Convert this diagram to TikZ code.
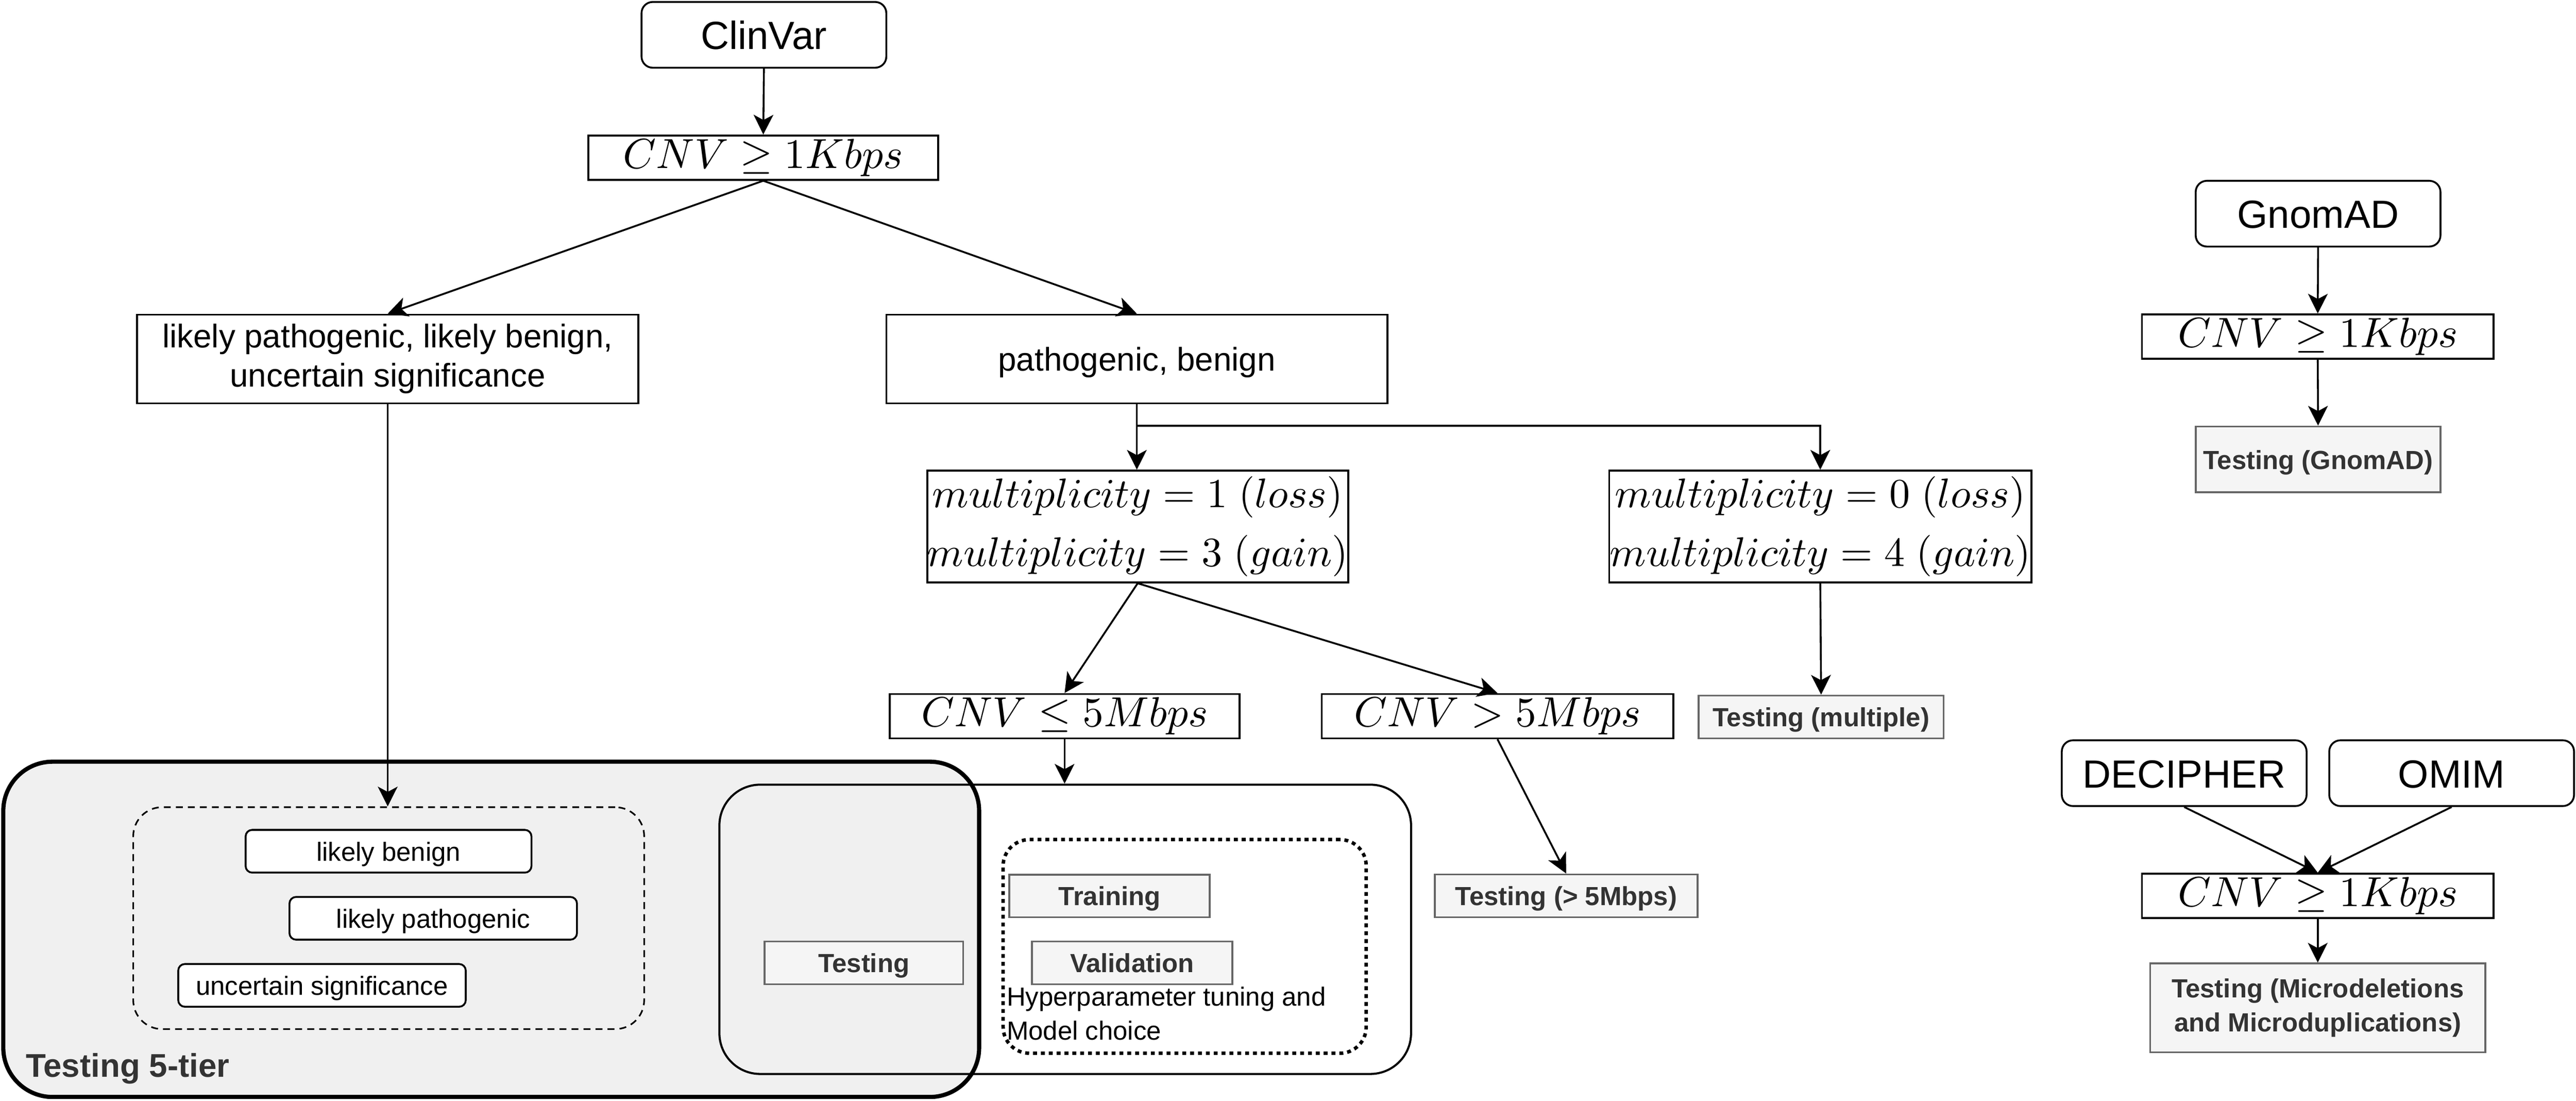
\documentclass[tikz,border=0pt]{standalone}
\usepackage[no-math]{fontspec}
\setmainfont{Liberation Sans}
\DeclareFontShape{OT1}{cmr}{m}{n}{<->cmr10}{}
\DeclareFontShape{OML}{cmm}{m}{it}{<->cmmi10}{}
\DeclareFontShape{OMS}{cmsy}{m}{n}{<->cmsy10}{}
\usetikzlibrary{arrows.meta}
\definecolor{tgray}{HTML}{333333}
\definecolor{bgray}{HTML}{666666}
\definecolor{fgray}{HTML}{F5F5F5}
\definecolor{cgray}{HTML}{F0F0F0}
\newcommand{\vstrut}{\rule[-0.21em]{0pt}{1.16em}}
\tikzset{
  sz/.style 2 args={minimum width=#1*0.025cm, minimum height=#2*0.025cm},
  base/.style={draw=black, line width=0.8pt, inner sep=0pt, align=center, text=black},
  txt/.style={execute at begin node=\vstrut, execute at end node=\vstrut},
  srcbox/.style={base, txt, rounded corners=0.17cm, font=\fontsize{17}{20.4}\selectfont},
  mathbox/.style={base, font=\fontsize{18.2}{22}\selectfont},
  multbox/.style={base, font=\fontsize{17.9}{25.3}\selectfont},
  catbox/.style={base, txt, font=\fontsize{14.2}{17}\selectfont},
  smallbox/.style={base, txt, fill=white, rounded corners=0.1cm, font=\fontsize{11.35}{14}\selectfont},
  testbox/.style={draw=bgray, fill=fgray, line width=0.8pt, inner sep=0pt, align=center, text=tgray, txt, font=\bfseries\fontsize{11.35}{14.6}\selectfont},
  tierbox/.style={draw=black, fill=cgray, line width=1.8pt, rounded corners=0.75cm, inner sep=0pt},
  splitbox/.style={draw=black, line width=0.9pt, rounded corners=0.62cm, inner sep=0pt},
  dashbox/.style={draw=black, line width=0.7pt, dash pattern=on 3pt off 2.2pt, rounded corners=0.44cm, inner sep=0pt},
  dotbox/.style={draw=black, line width=1.5pt, dash pattern=on 1.7pt off 1.7pt, rounded corners=0.4cm, inner sep=0pt},
  plain/.style={inner sep=0pt, align=left, text=black, font=\fontsize{11.35}{14.7}\selectfont},
  tierlabel/.style={inner sep=0pt, text=tgray, font=\bfseries\fontsize{14.2}{17}\selectfont},
  arr/.style={draw=black, line width=0.8pt, -{Stealth[length=0.3cm, width=0.3cm, inset=0.08cm]}},
}
\begin{document}
\begin{tikzpicture}[x=0.025cm, y=-0.025cm]
\useasboundingbox (0,0) rectangle (1568,669.66);

% ClinVar branch
\node[srcbox, sz={149}{40}] (clinvar) at (465,21.2) {ClinVar};
\node[mathbox, sz={213}{27}] (cnv1) at (464.6,95.9) {$CNV \geq 1Kbps$};
\node[catbox, sz={305}{54}] (lbox) at (236,218.4) {likely pathogenic, likely benign,\\uncertain significance};
\node[catbox, sz={305}{54}] (pbox) at (692,218.4) {pathogenic, benign};
\node[multbox, sz={255}{68}] (mult1) at (692.5,320.3) {$multiplicity = 1\;(loss)$\\$multiplicity = 3\;(gain)$};
\node[multbox, sz={257}{68}] (mult2) at (1108,320.3) {$multiplicity = 0\;(loss)$\\$multiplicity = 4\;(gain)$};
\node[mathbox, sz={213}{27}] (cnv2) at (648,435.7) {$CNV \leq 5Mbps$};
\node[mathbox, sz={214}{27}] (cnv3) at (911.5,435.7) {$CNV > 5Mbps$};
\node[testbox, sz={149}{26}] (tmult) at (1108.5,436.2) {Testing (multiple)};

% containers
\node[tierbox, sz={594}{204}] (tier) at (299,565.4) {};
\node[tierlabel, anchor=base west] (tierlbl) at (15.5,655.4) {Testing 5-tier};
\node[splitbox, sz={421}{176}] (split) at (648.4,565.4) {};
\node[dashbox, sz={311}{135}] (cats) at (236.6,558.6) {};
\node[smallbox, sz={174}{26}] (lb) at (236.5,517.9) {likely benign};
\node[smallbox, sz={175}{26}] (lp) at (263.7,558.7) {likely pathogenic};
\node[smallbox, sz={175}{26}] (us) at (196,599.5) {uncertain significance};
\node[testbox, sz={121}{26}] (ttest) at (525.8,585.8) {Testing};
\node[dotbox, sz={221}{130}] (tv) at (721.1,575.8) {};
\node[testbox, sz={122}{26}] (ttrain) at (675.4,545.1) {Training};
\node[testbox, sz={122}{26}] (tval) at (689.1,585.8) {Validation};
\node[plain, anchor=base west] (hyp) at (612.5,632.8) {Hyperparameter tuning and\\Model choice};
\node[testbox, sz={160}{26}] (t5m) at (953.3,545) {Testing (> 5Mbps)};

% GnomAD branch
\node[srcbox, sz={149}{40}] (gnomad) at (1411,130) {GnomAD};
\node[mathbox, sz={214}{27}] (cnv4) at (1410.8,204.8) {$CNV \geq 1Kbps$};
\node[testbox, sz={149}{40}] (tgnom) at (1411,279.5) {Testing (GnomAD)};

% DECIPHER / OMIM branch
\node[srcbox, sz={149}{40}] (decipher) at (1329.5,470.4) {DECIPHER};
\node[srcbox, sz={149}{40}] (omim) at (1492.3,470.4) {OMIM};
\node[mathbox, sz={214}{27}] (cnv5) at (1410.8,545) {$CNV \geq 1Kbps$};
\node[testbox, sz={204}{54}] (tmicro) at (1410.8,613.2) {Testing (Microdeletions\\and Microduplications)};

% connectors
\draw[arr] (clinvar.south) -- (cnv1.north);
\draw[arr] (cnv1.south) -- (lbox.north);
\draw[arr] (cnv1.south) -- (pbox.north);
\coordinate (fork) at (pbox.south |- 0,259);
\draw[arr] (pbox.south) -- (pbox.south |- mult1.north);
\draw[arr] (fork) -| (mult2.north);
\draw[arr] (mult1.south) -- (cnv2.north);
\draw[arr] (mult1.south) -- (cnv3.north);
\draw[arr] (mult2.south) -- (tmult.north);
\draw[arr] (lbox.south) -- (lbox.south |- cats.north);
\draw[arr] (cnv2.south) -- (cnv2.south |- split.north);
\draw[arr] (cnv3.south) -- (t5m.north);
\draw[arr] (gnomad.south) -- (cnv4.north);
\draw[arr] (cnv4.south) -- (tgnom.north);
\draw[arr] (decipher.south) -- (cnv5.north);
\draw[arr] (omim.south) -- (cnv5.north);
\draw[arr] (cnv5.south) -- (tmicro.north);
\end{tikzpicture}
\end{document}
